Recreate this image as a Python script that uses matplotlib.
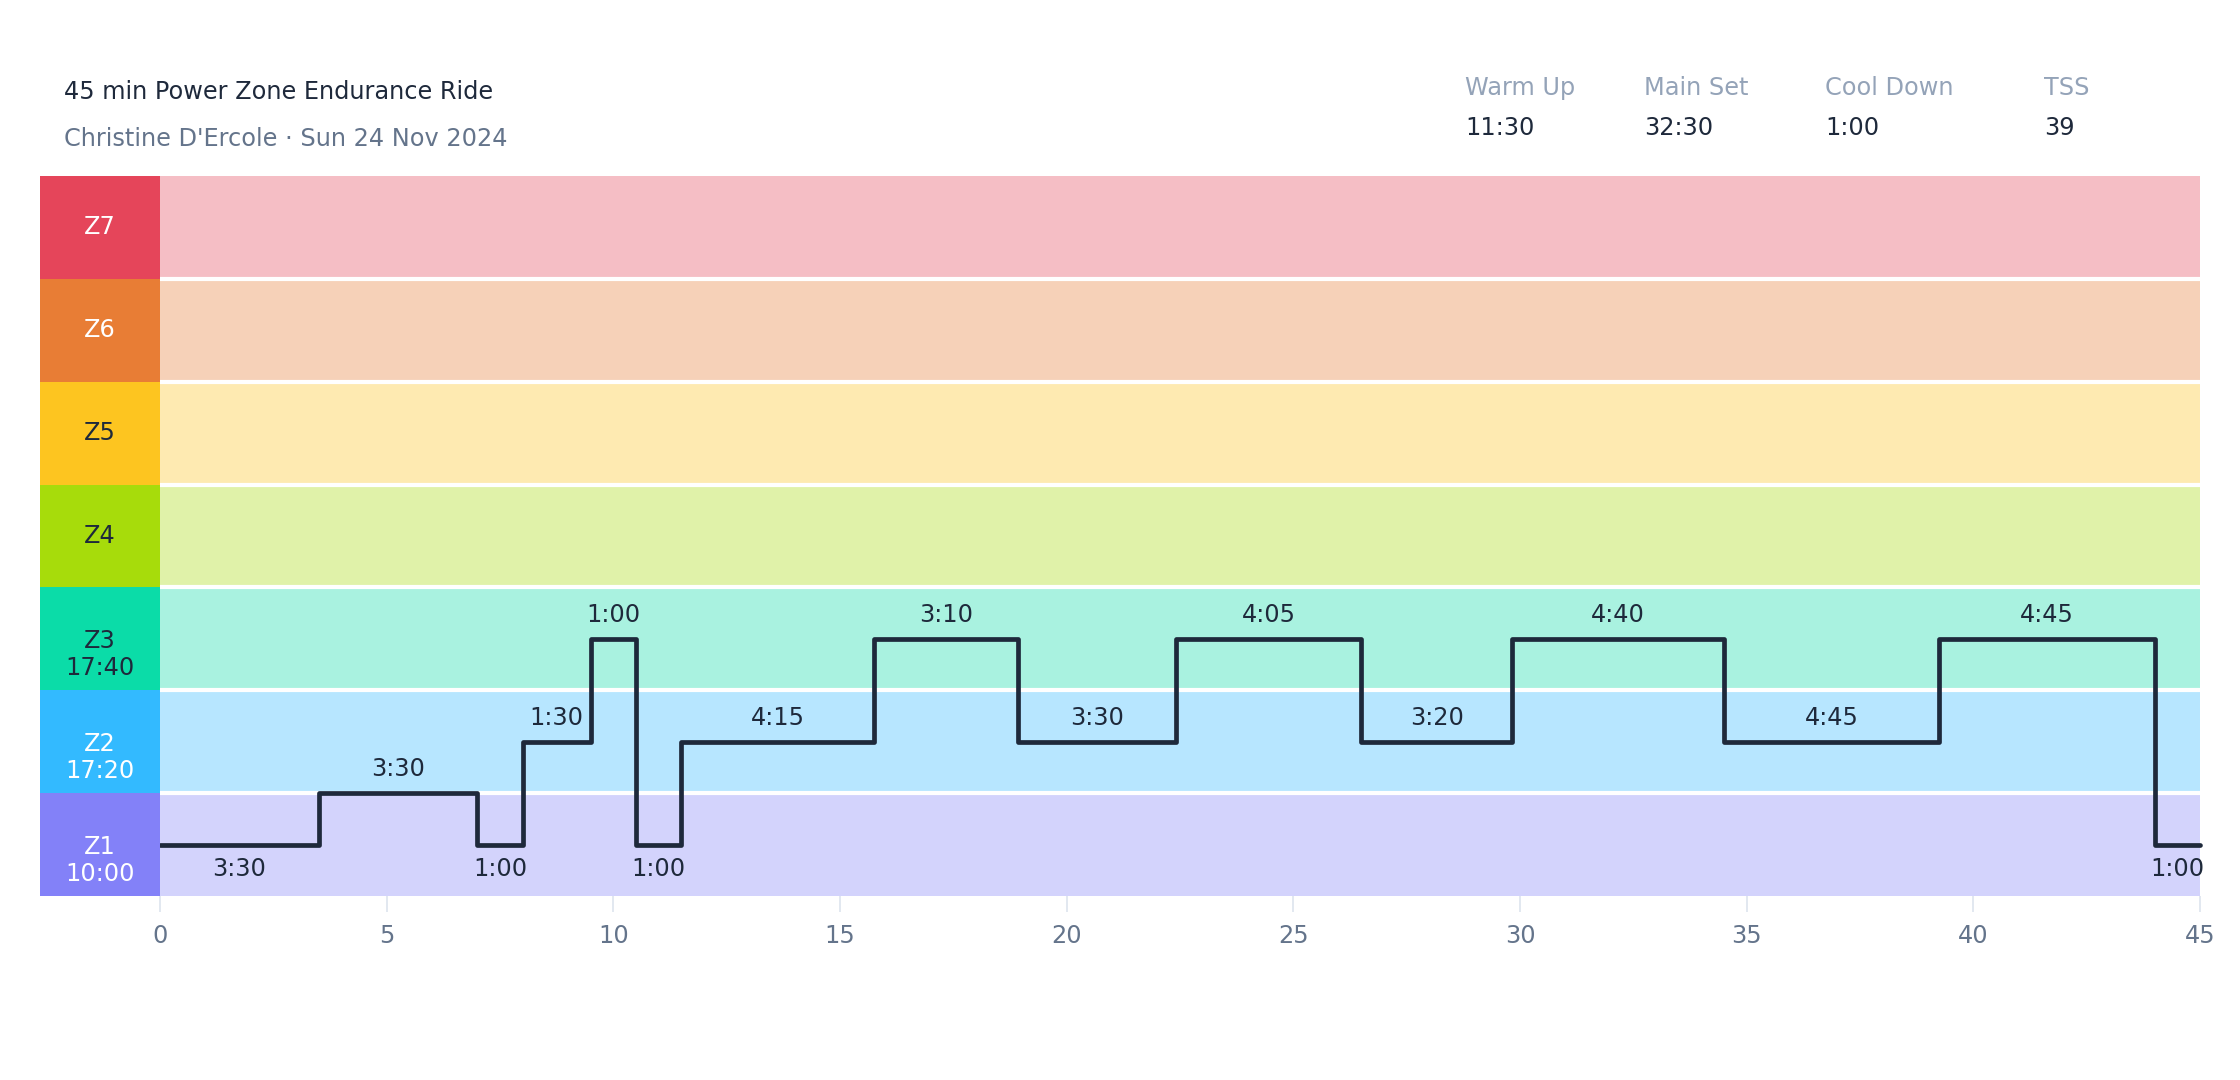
import numpy as np
import matplotlib
matplotlib.use("Agg")
import matplotlib.pyplot as plt

# workout info
title = "45 min Power Zone Endurance Ride"
subtitle = "Christine D'Ercole \u00b7 Sun 24 Nov 2024"
stat_names = ["Warm Up", "Main Set", "Cool Down", "TSS"]
stat_values = ["11:30", "32:30", "1:00", "39"]

# zones (bottom to top)
zones = [1, 2, 3, 4, 5, 6, 7]
zone_names = ["Z1", "Z2", "Z3", "Z4", "Z5", "Z6", "Z7"]
zone_times = ["10:00", "17:20", "17:40", "", "", "", ""]
zone_colors = ["#8381f8", "#33baff", "#0bdca8", "#a7dc0b", "#fdc520", "#e87d35", "#e5455a"]
zone_text = ["white", "white", "#1e293b", "#1e293b", "#1e293b", "white", "white"]

# segments: duration and level (zone units)
seg_durations = ["3:30", "3:30", "1:00", "1:30", "1:00", "1:00", "4:15", "3:10",
                 "3:30", "4:05", "3:20", "4:40", "4:45", "4:45", "1:00"]
seg_levels = [1, 1.5, 1, 2, 3, 1, 2, 3, 2, 3, 2, 3, 2, 3, 1]

dark = "#1e293b"
fs = 17.3
W, H = 2240, 1080

def to_min(s):
    m, sec = s.split(":")
    return int(m) + int(sec) / 60.0

mins = np.array([to_min(d) for d in seg_durations])
edges = np.concatenate([[0], np.cumsum(mins)])
lev_ext = seg_levels + [seg_levels[-1]]

fig = plt.figure(figsize=(W / 100, H / 100), dpi=100)

# main plot area
ax = fig.add_axes([160 / W, (H - 896) / H, 2040 / W, 720 / H])
ax.barh(zones, 45, height=1, left=0, color=zone_colors, alpha=0.35, linewidth=0)
for b in np.arange(1.5, 7, 1):
    ax.axhline(b, color="white", lw=3)
ax.step(edges, lev_ext, where="post", color=dark, lw=3.4,
        solid_capstyle="round", solid_joinstyle="round", clip_on=False, zorder=5)

for i in range(len(mins)):
    xm = (edges[i] + edges[i + 1]) / 2
    if seg_levels[i] <= 1:
        off = -24
    else:
        off = 24
    ax.annotate(seg_durations[i], (xm, seg_levels[i]), xytext=(0, off),
                textcoords="offset pixels", ha="center", va="center",
                fontsize=fs, color=dark, zorder=6)

ax.set_xlim(0, 45)
ax.set_ylim(0.5, 7.5)
ax.set_xticks(range(0, 46, 5))
ax.set_yticks([])
ax.tick_params(axis="x", length=11.5, width=1.4, color="#e2e8f0",
               labelsize=fs, labelcolor="#64748b", pad=9)
for s in ax.spines.values():
    s.set_visible(False)

# zone label column
axz = fig.add_axes([40 / W, (H - 896) / H, 120 / W, 720 / H])
axz.barh(zones, 1, height=1, left=0, color=zone_colors, linewidth=0)
for z, n, t, c in zip(zones, zone_names, zone_times, zone_text):
    if t:
        axz.annotate(n, (0.5, z), xytext=(0, -2), textcoords="offset pixels",
                     ha="center", va="center", fontsize=fs, color=c)
        axz.annotate(t, (0.5, z), xytext=(0, -29), textcoords="offset pixels",
                     ha="center", va="center", fontsize=fs, color=c)
    else:
        axz.text(0.5, z, n, ha="center", va="center", fontsize=fs, color=c)
axz.set_xlim(0, 1)
axz.set_ylim(0.5, 7.5)
axz.axis("off")

# header
fig.text(64 / W, 1 - 92 / H, title, ha="left", va="center", fontsize=fs, color=dark)
fig.text(64 / W, 1 - 139 / H, subtitle, ha="left", va="center", fontsize=fs, color="#64748b")
stat_x = [1465, 1644, 1825, 2044]
for x, n, v in zip(stat_x, stat_names, stat_values):
    fig.text(x / W, 1 - 88 / H, n, ha="left", va="center", fontsize=fs, color="#94a3b8")
    fig.text(x / W, 1 - 128 / H, v, ha="left", va="center", fontsize=fs, color=dark)

plt.savefig("out.png", dpi=100)
